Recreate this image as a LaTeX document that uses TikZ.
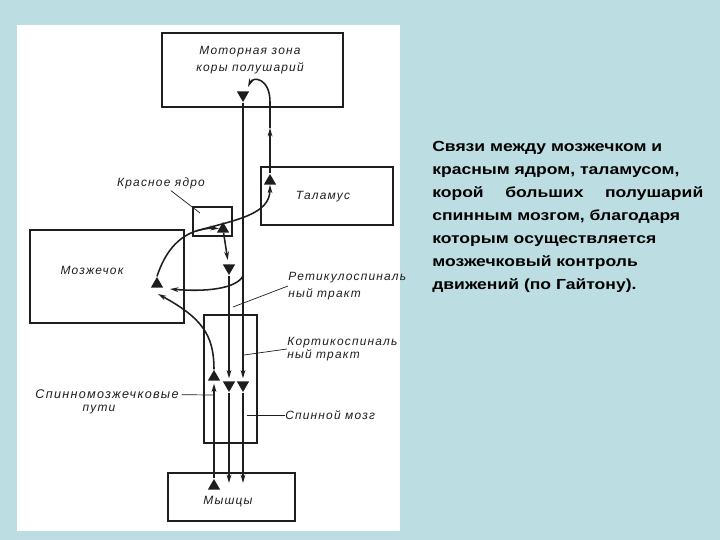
\documentclass[tikz,border=0pt]{standalone}
\usepackage{fontspec}
\setmainfont{Liberation Sans}
\newfontfamily\lblfont[LetterSpace=10]{Liberation Sans}
\newfontfamily\capfont[FakeStretch=1.2]{Liberation Sans}
\usepackage{xcolor}
\usepackage{tikz}
\usetikzlibrary{positioning, shapes.geometric, arrows.meta}
\definecolor{slide}{RGB}{188,222,227}
\definecolor{ink}{RGB}{30,30,30}

\begin{document}
\begin{tikzpicture}[x=0.25mm, y=-0.25mm,
    box/.style 2 args={draw=ink, line width=0.9pt, inner sep=0pt, minimum width=#1*0.25mm, minimum height=#2*0.25mm},
    lbl/.style={font=\lblfont\itshape\fontsize{8.5}{12}\selectfont, text=ink, inner sep=0pt},
    capt/.style={font=\capfont\bfseries\fontsize{10.4}{12}\selectfont, inner sep=0pt},
    nerve/.style={draw=ink, line width=1.1pt},
    arr/.style={nerve, -{Stealth[length=6pt, width=3.4pt]}},
    lead/.style={draw=ink, line width=0.5pt},
    triup/.style={regular polygon, regular polygon sides=3, fill=ink, inner sep=0pt, minimum size=10pt},
    tridn/.style={triup, shape border rotate=180}]

        % Slide and figure panel
        \fill[slide] (0,0) rectangle (720,540);
        \fill[white] (17,25) rectangle (400,531);

        % Boxes
        \node[box={181}{74}] (motor) at (252.5,70) {};
        \node[box={132}{58}] (thal) at (327,196) {};
        \node[box={39}{29}] (rednuc) at (212.5,221.5) {};
        \node[box={154}{93}] (cereb) at (107,276.5) {};
        \node[box={53}{128}] (cord) at (230.5,379) {};
        \node[box={127}{48}] (musc) at (231.5,497) {};

        \node[lbl, align=center] (motorT) at (250,60) {Моторная зона\\коры полушарий};
        \node[lbl] (thalT) at (323,197) {Таламус};
        \node[lbl] (cerebT) at (92,270) {Мозжечок};
        \node[lbl] (muscT) at (228,502) {Мышцы};

        % Synapses
        \node[tridn] (tM) at (243,95) {};
        \node[triup] (tT) at (270,181) {};
        \node[triup] (tR) at (223,229) {};
        \node[triup] (tC) at (157,284) {};
        \node[tridn] (tRs) at (229,268) {};
        \node[triup] (tS1) at (214,377) {};
        \node[tridn] (tS2) at (229,385) {};
        \node[tridn] (tS3) at (243,385) {};
        \node[triup] (tMu) at (214,486) {};

        \coordinate (mIn) at (248,87);
        \coordinate (thMid) at (270,128);
        \coordinate (rsFork) at (243,276);
        \coordinate (rnFork) at (196,231);
        \coordinate (cbIn1) at (170,289);
        \coordinate (cbIn2) at (158,294);
        \coordinate (mu2) at (229,483);
        \coordinate (mu3) at (243,483);

        % Pathways
        \draw[arr, shorten >=2pt] (tM) -- (tS3);
        \draw[arr] (tS3) -- (mu3);
        \draw[arr, shorten >=2pt] (tRs) -- (tS2);
        \draw[arr] (tS2) -- (mu2);
        \draw[arr, shorten >=2pt] (tMu) -- (tS1);
        \draw[arr] (tS1.north) .. controls (214,335) and (202,318) .. (cbIn2);
        \draw[arr] (rsFork) .. controls (236,289) and (205,292) .. (cbIn1);
        \draw[arr] (tC.north) .. controls (165,252) and (178,237) .. (rnFork)
              .. controls (235,220) and (270,215) .. (tT.south);
        \draw[arr] (rnFork) to[bend left=10] (tR);
        \draw[arr, shorten >=3pt] (tR) -- (tRs);
        \draw[arr] (tT.north) -- (thMid);
        \draw[arr] (thMid) -- (270,102) .. controls (270,78) and (253,76) .. (mIn);

        % Labels with leaders
        \node[lbl] (rnL) at (161,183) {Красное ядро};
        \coordinate (rnP) at (200,213);
        \draw[lead, shorten <=2pt] (rnL) -- (rnP);

        \node[lbl, anchor=west, align=left] (retL) at (288,286) {Ретикулоспиналь\\ный тракт};
        \coordinate (retP) at (233,307);
        \draw[lead] (retL.west) -- (retP);

        \node[lbl, anchor=west, align=left, font=\lblfont\itshape\fontsize{8.5}{9.5}\selectfont] (corL) at (287,349) {Кортикоспиналь\\ный тракт};
        \coordinate (corP) at (244,355);
        \draw[lead] (corL.west) -- (corP);

        \node[lbl, font=\lblfont\itshape\fontsize{9}{12}\selectfont] (scL) at (107,394) {Спинномозжечковые};
        \node[lbl, below=1.5mm of scL, xshift=-2mm] (scL2) {пути};
        \coordinate (scP) at (213,395);
        \draw[lead, shorten <=2pt] (scL) -- (scP);

        \node[lbl, anchor=west] (cordL) at (285,415) {Спинной мозг};
        \coordinate (cordP) at (247,415);
        \draw[lead] (cordP) -- (cordL.west);

        % Caption
        \foreach \ln [count=\i] in {{Связи между мозжечком и}, {красным ядром,  таламусом,},
            {\makebox[67.75mm][s]{корой больших полушарий}}, {спинным мозгом, благодаря},
            {которым осуществляется}, {мозжечковый контроль}, {движений  (по Гайтону).}}
          \node[capt, anchor=base west] (cap\i) at (432,128+23*\i) {\ln};
\end{tikzpicture}
\end{document}
